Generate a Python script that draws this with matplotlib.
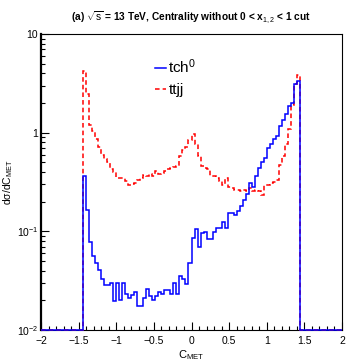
import numpy as np
import matplotlib
matplotlib.use('Agg')
from matplotlib import pyplot as plt
from matplotlib.ticker import LogLocator, MultipleLocator, FixedLocator, FixedFormatter, NullFormatter

plt.rcParams['font.family'] = ['Liberation Sans', 'DejaVu Sans']
plt.rcParams['mathtext.fontset'] = 'custom'
plt.rcParams['mathtext.rm'] = 'Liberation Sans'
plt.rcParams['mathtext.it'] = 'Liberation Sans:italic'
plt.rcParams['mathtext.bf'] = 'Liberation Sans:bold'

# binning: 100 bins of 0.04 between -2 and 2, filled bins from -1.44 to 1.44
bin_edges = np.linspace(-2., 2., 101)
first_bin = 14

tch0 = [0.363, 0.163, 0.0787, 0.056, 0.0474, 0.0405, 0.033, 0.0288, 0.0288, 0.030,
        0.0197, 0.030, 0.020, 0.030, 0.023, 0.021, 0.0225, 0.0243, 0.0175, 0.0175,
        0.021, 0.0258, 0.022, 0.020, 0.022, 0.024, 0.023, 0.0255, 0.0255, 0.023,
        0.030, 0.023, 0.0352, 0.033, 0.029, 0.0474, 0.0863, 0.105, 0.070, 0.097,
        0.098, 0.0843, 0.083, 0.098, 0.109, 0.109, 0.124, 0.109, 0.152, 0.152,
        0.148, 0.161, 0.181, 0.208, 0.237, 0.306, 0.284, 0.363, 0.44, 0.50,
        0.56, 0.70, 0.76, 0.87, 0.92, 1.17, 1.33, 1.53, 1.86, 2.01,
        3.08, 3.33]

ttjj = [4.2, 2.44, 1.19, 1.04, 0.855, 0.72, 0.60, 0.545, 0.508, 0.425,
        0.40, 0.35, 0.345, 0.345, 0.323, 0.292, 0.30, 0.31, 0.335, 0.35,
        0.37, 0.36, 0.38, 0.36, 0.41, 0.38, 0.39, 0.41, 0.425, 0.44,
        0.45, 0.455, 0.58, 0.66, 0.72, 0.85, 0.96, 0.77, 0.58, 0.46,
        0.44, 0.43, 0.363, 0.36, 0.345, 0.325, 0.292, 0.345, 0.284, 0.277,
        0.262, 0.262, 0.256, 0.262, 0.256, 0.277, 0.256, 0.265, 0.256, 0.232,
        0.292, 0.298, 0.31, 0.314, 0.33, 0.466, 0.58, 0.76, 1.08, 1.9,
        3.1, 3.85]

ymin, ymax = 1e-2, 10.

def full_hist(vals):
    h = np.zeros(len(bin_edges) - 1)
    h[first_bin:first_bin + len(vals)] = vals
    # empty bins sit on the frame like in ROOT
    return np.clip(h, ymin, None)

fig = plt.figure(figsize=(3.47, 3.63), dpi=100)
ax = fig.add_axes([41/347., 1 - 330/363., (342 - 41)/347., (330 - 34)/363.])

ax.stairs(full_hist(ttjj), bin_edges, baseline=None, color='#ff0000', lw=1.1,
          ls=(0, (3, 2)), label='ttjj', zorder=3, clip_on=False)
ax.stairs(full_hist(tch0), bin_edges, baseline=None, color='#0000ff', lw=1.1,
          label='tch$^{0}$', zorder=4, clip_on=False)

ax.set_yscale('log')
ax.set_xlim(-2, 2)
ax.set_ylim(ymin, ymax)

ax.xaxis.set_major_locator(MultipleLocator(0.5))
ax.xaxis.set_minor_locator(MultipleLocator(0.1))
ax.xaxis.set_major_formatter(plt.FuncFormatter(lambda v, p: ('%g' % v).replace('-', '\u2212')))
ax.yaxis.set_major_locator(FixedLocator([1e-2, 1e-1, 1., 10.]))
ax.yaxis.set_major_formatter(FixedFormatter(['$10^{-2}$', '$10^{-1}$', '1', '10']))
ax.yaxis.set_minor_locator(LogLocator(base=10, subs=np.arange(2, 10)))
ax.yaxis.set_minor_formatter(NullFormatter())

ax.tick_params(which='both', direction='in', top=False, right=False, labelsize=7.5)
ax.tick_params(axis='x', pad=4)
ax.tick_params(axis='y', pad=2)
ax.tick_params(which='major', length=6, width=0.8)
ax.tick_params(which='minor', length=3, width=0.8)
ax.spines['left'].set_linewidth(1.6)
for s in ['top', 'right', 'bottom']:
    ax.spines[s].set_linewidth(0.8)

ax.set_xlabel('C$_{\\mathrm{MET}}$', fontsize=8, labelpad=2)
ax.set_ylabel('d\u03c3/dC$_{\\mathrm{MET}}$', fontsize=7.5)
ax.yaxis.set_label_coords(-0.085, 0.5)

fig.suptitle('(a) $\\sqrt{\\mathrm{s}}$ = 13 TeV, Centrality without 0 < x$_{1,2}$ < 1 cut',
             fontsize=7.3, fontweight='bold', x=0.55, y=0.975)

handles, labels = ax.get_legend_handles_labels()
ax.legend(handles[::-1], labels[::-1], loc='upper left', bbox_to_anchor=(0.36, 0.94),
          frameon=False, fontsize=11, handlelength=0.7, handletextpad=0.15,
          labelspacing=0.45, borderaxespad=0.)

fig.savefig('out.png', dpi=100)
